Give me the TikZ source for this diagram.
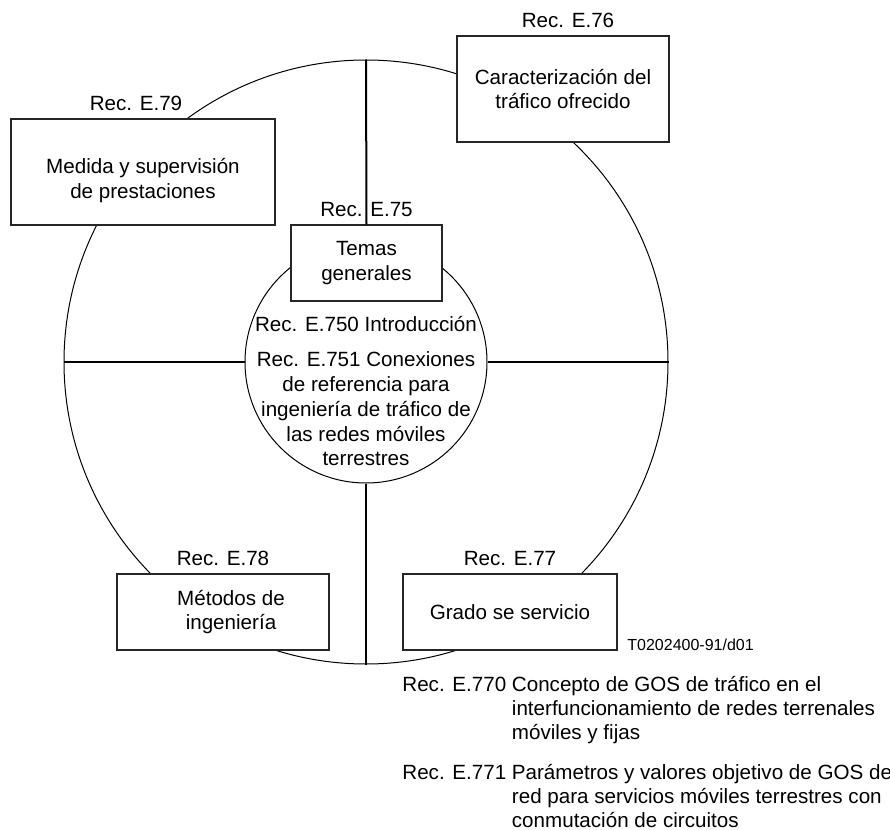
\documentclass[tikz,border=0pt]{standalone}
\usepackage{fontspec}
\setmainfont{Liberation Sans}
\usetikzlibrary{positioning}

\begin{document}
\begin{tikzpicture}[
    x=0.5pt, y=-0.5pt,
    every node/.style={font=\fontsize{10.3}{12.4}\selectfont},
    ring/.style={circle, draw, line width=0.5pt, inner sep=0pt},
    box/.style={rectangle, draw=black!85, line width=0.6pt, fill=white, align=center, inner sep=0pt},
    rec/.style={inner sep=0pt},
    note/.style={inner sep=0pt, anchor=base west, font=\fontsize{10.3}{12}\selectfont},
    cross/.style={line width=1pt}
]
\useasboundingbox (0,0) rectangle (890,830);

\node[ring, minimum size=302pt] (outer) at (366,362) {};
\node[ring, minimum size=121pt] (inner) at (366,362) {};

\node[box, minimum width=132pt, minimum height=53pt] (e79) at (143,172) {\rule{0pt}{16pt}Medida y supervisión\\de prestaciones};
\node[box, minimum width=106pt, minimum height=53pt] (e76) at (563,89) {Caracterización del\\tráfico ofrecido};
\node[box, minimum width=75.5pt, minimum height=38pt] (e75) at (366.5,263) {Temas\\generales};
\node[box, minimum width=106pt, minimum height=38pt] (e78) at (223,612) {\hspace*{8pt}Métodos de\\\hspace*{8pt}ingeniería};
\node[box, minimum width=107pt, minimum height=38pt] (e77) at (510,612) {Grado se servicio};

\node[rec, above=3.5pt of e79, xshift=-3.5pt] (l79) {Rec. E.79};
\node[rec, above=3.5pt of e76, xshift=2.5pt] (l76) {Rec. E.76};
\node[rec, above=3.5pt of e75] (l75) {Rec. E.75};
\node[rec, above=3.5pt of e78] (l78) {Rec. E.78};
\node[rec, above=3.5pt of e77] (l77) {Rec. E.77};

\draw[cross] (outer.north) -- (e75.north);
\draw[cross] (inner.south) -- (outer.south);
\draw[cross] (outer.west) -- (inner.west);
\draw[cross] (inner.east) -- (outer.east);

\node[rec] (e750) at (366,324) {Rec. E.750 Introducción};
\node[rec, align=center] (e751) at (366,409) {Rec. E.751 Conexiones\\de referencia para\\ingeniería de tráfico de\\las redes móviles\\terrestres};

\node[note, font=\fontsize{8}{9.6}\selectfont] (code) at (627,650) {T0202400-91/d01};

\node[note] (e770) at (402,691) {\begin{tabular}[t]{@{}l@{\ }l@{}}Rec. E.770 & Concepto de GOS de tráfico en el\\
 & interfuncionamiento de redes terrenales\\
 & móviles y fijas\end{tabular}};
\node[note] (e771) at (402,779) {\begin{tabular}[t]{@{}l@{\ }l@{}}Rec. E.771 & Parámetros y valores objetivo de GOS de\\
 & red para servicios móviles terrestres con\\
 & conmutación de circuitos\end{tabular}};
\end{tikzpicture}
\end{document}
